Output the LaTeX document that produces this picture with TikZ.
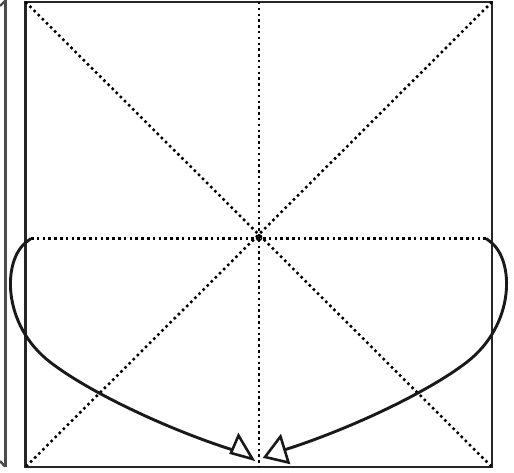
\documentclass[tikz,border=0pt]{standalone}
\begin{document}
\begin{tikzpicture}[x=1pt,y=-1pt,
  frame/.style={line width=2.4pt, draw=black!85},
  dotline/.style={line width=2.5pt, dash pattern=on 2.5pt off 3.3pt, draw=black},
  curveline/.style={line width=2.9pt, draw=black!90},
  headtri/.style={line width=2.6pt, draw=black!90, line join=miter}]
\useasboundingbox (0,0) rectangle (514,473);
% corners of main square
\coordinate (TL) at (25.5,2);
\coordinate (TR) at (492,2);
\coordinate (BR) at (492,467);
\coordinate (BL) at (25.5,467);
\coordinate (MT) at (259,2);
\coordinate (MB) at (259,467);
\coordinate (CL) at (31,238.5);
\coordinate (CR) at (486,238.5);
\coordinate (C) at (259,238);
% left partial panel
\draw[frame, draw=black!70] (5.5,0) -- (5.5,467);
\draw[frame, draw=black!70] (0,6) -- (5.5,0.5);
\draw[frame, draw=black!70] (0,461) -- (5,466.5);
% main square
\draw[frame] (TL) rectangle (BR);
% dotted lines
\draw[dotline] (TL) -- (BR);
\draw[dotline] (TR) -- (BL);
\draw[dotline] (MT) -- (MB);
\draw[dotline] (CL) -- (CR);
\draw[line width=1.4pt] (C) circle (2.5);
% curves
\coordinate (LE) at (231.5,449.5);
\coordinate (RE) at (285.5,449.5);
\draw[curveline] (CL) -- (27,241.5) .. controls (2,260) and (2,325) .. (50,362)
  .. controls (90,393) and (170,430) .. (LE);
\draw[curveline] (CR) -- (490,241.5) .. controls (515,260) and (515,325) .. (467,362)
  .. controls (427,393) and (347,430) .. (RE);
% arrow heads
\draw[headtri] (238.5,435.5) -- (252.5,459) -- (231,453) -- cycle;
\draw[headtri] (280.5,436.5) -- (265,457) -- (288.5,462.5) -- cycle;
\end{tikzpicture}
\end{document}
